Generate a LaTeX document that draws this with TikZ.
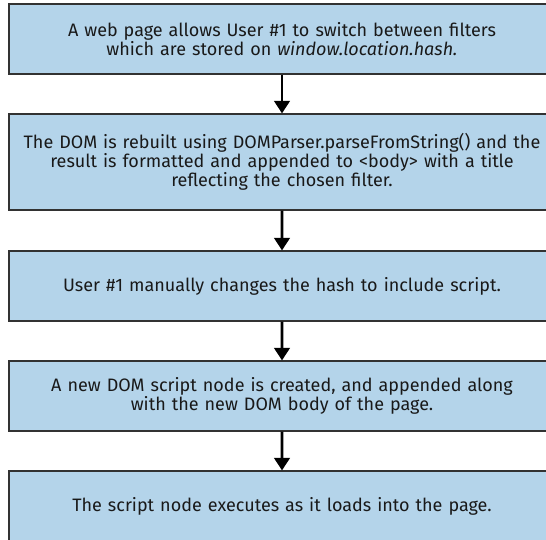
\documentclass[tikz,border=0pt]{standalone}
\usepackage{fontspec}
\setmainfont[FakeStretch=1.0]{Fira Sans}
\usetikzlibrary{arrows.meta}

\definecolor{stepblue}{RGB}{180,212,234}
\definecolor{stepline}{RGB}{50,50,50}

\tikzset{
  stepbox/.style={draw=stepline, line width=1.2pt, fill=stepblue,
    minimum width=546pt, minimum height=70pt, text width=544pt,
    align=center, inner sep=0pt, text=black!90,
    font=\fontsize{18pt}{17.5pt}\selectfont},
  stepflow/.style={draw, line width=2.7pt, -{Triangle[width=15.5pt,length=12.5pt]}}
}

\begin{document}
\begin{tikzpicture}

\useasboundingbox (0pt,0pt) rectangle (546pt,-540pt);

\node (hash) [stepbox] at (282pt,-39pt) {A web page allows User \#1 to switch between filters \\ which are stored on \textit{window.location.hash.}} [level distance=123pt] [edge from parent/.style={stepflow}]
        child {node (rebuild) [stepbox, minimum height=96pt] {The DOM is rebuilt using DOMParser.parseFromString() and the \\ result is formatted and appended to <body> with a title \\ reflecting the chosen filter.} [level distance=124pt]
            child {node (change) [stepbox] {User \#1 manually changes the hash to include script.} [level distance=110pt]
                child {node (append) [stepbox] {A new DOM script node is created, and appended along \\ with the new DOM body of the page.} [level distance=110pt]
                    child {node (execute) [stepbox] {The script node executes as it loads into the page.}}}}};

\end{tikzpicture}
\end{document}
